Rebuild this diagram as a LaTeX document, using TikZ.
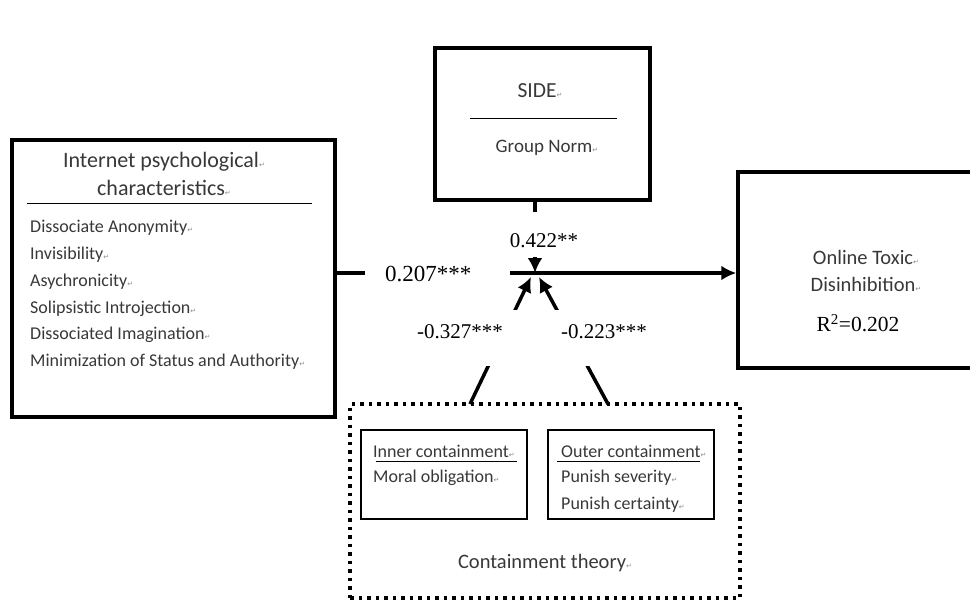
\documentclass[tikz,border=0pt]{standalone}
\usepackage{fontspec}
\setmainfont{Carlito}
\newfontfamily\coeffont{Liberation Serif}
\newfontfamily\markfont{DejaVu Sans}
\usetikzlibrary{arrows.meta}
\newcommand\pmark{{\markfont\fontsize{7}{7}\selectfont\color{black!45}↵}}

\begin{document}
\begin{tikzpicture}[x=1pt, y=-1pt,
    box/.style={draw, line width=3.5pt, inner sep=0},
    subbox/.style={draw, line width=1.8pt, inner sep=0},
    link/.style={line width=3.5pt, -{Latex[length=15pt,width=15pt]}},
    coef/.style={font=\coeffont\fontsize{21}{24}\selectfont, fill=white, inner sep=0, anchor=base},
    txt/.style={text=black!78, inner sep=0},
    item/.style={txt, anchor=west, font=\fontsize{18}{21}\selectfont}]

    \useasboundingbox (0, 0) rectangle (970, 602);

    % Cajas
    \node[box, minimum width=323, minimum height=277] (ipc) at (173.5, 278.5) {};
    \node[box, minimum width=215, minimum height=152] (side) at (542.5, 124) {};
    \node[box, minimum width=250, minimum height=196] (otd) at (863, 270) {};
    \node[draw, line width=3.5pt, dash pattern=on 3.5pt off 5pt, inner sep=0,
          minimum width=390, minimum height=194] (ct) at (545, 501) {};
    \node[subbox, minimum width=166, minimum height=89] (inner) at (444, 474.5) {};
    \node[subbox, minimum width=166, minimum height=89] (outer) at (631, 474.5) {};

    % Textos
    \node[txt, align=center, font=\fontsize{22}{28}\selectfont] (ipct) at (164, 174)
        {Internet psychological\pmark\\characteristics\pmark};
    \draw[line width=0.8pt] (27, 203) -- (312, 203);
    \foreach \t [count=\i] in {Dissociate Anonymity, Invisibility, Asychronicity,
        Solipsistic Introjection, Dissociated Imagination,
        Minimization of Status and Authority}
      \node[item] (it\i) at (30, {228 + 26.8*(\i-1)}) {\t\pmark};

    \node[txt, font=\fontsize{21.5}{24}\selectfont] (sidet) at (540, 91) {SIDE\pmark};
    \draw[line width=0.8pt] (470, 118) -- (617, 118);
    \node[txt, font=\fontsize{19}{22}\selectfont] (gn) at (547, 148) {Group Norm\pmark};

    \node[txt, align=center, font=\fontsize{20.5}{27}\selectfont] (otdt) at (866, 271)
        {Online Toxic\pmark\\Disinhibition\pmark};
    \node[inner sep=0, font=\coeffont\fontsize{21.5}{24}\selectfont] (r2) at (858, 323)
        {R\textsuperscript{2}=0.202};

    \node[item] (ict) at (373, 451) {Inner containment\pmark};
    \draw[line width=0.8pt] (376, 461) -- (517, 461);
    \node[item] (mo) at (373, 478) {Moral obligation\pmark};
    \node[item] (oct) at (561, 451) {Outer containment\pmark};
    \draw[line width=0.8pt] (557, 461) -- (700, 461);
    \node[item] (ps) at (561, 478) {Punish severity\pmark};
    \node[item] (pc) at (561, 505) {Punish certainty\pmark};
    \node[txt, font=\fontsize{20.5}{24}\selectfont] (ctt) at (545, 563)
        {Containment theory\pmark};

    % Flechas
    \coordinate (jn) at (535, 273);
    \coordinate (ctL) at (470, 404);
    \coordinate (ctR) at (608, 404);
    \coordinate (tipL) at (531, 277);
    \coordinate (tipR) at (539, 277);
    \draw[link] (ipc.east |- jn) -- (otd.west |- jn);
    \draw[link] (side.south -| jn) -- (jn);
    \draw[link] (ctL) -- (tipL);
    \draw[link] (ctR) -- (tipR);

    % Coeficientes
    \node[coef, font=\coeffont\fontsize{23}{26}\selectfont, anchor=base west,
          text width=145, align=left, text height=15, text depth=5] (b1)
          at (365, 281) {\hspace*{20pt}0.207***};
    \node[coef, text height=35, text depth=10] (b2) at (544, 247) {0.422**};
    \node[coef, minimum width=120, text height=28, text depth=28] (b3) at (460, 338) {-0.327***};
    \node[coef, minimum width=100, text height=28, text depth=28] (b4) at (604, 338) {-0.223***};

  \end{tikzpicture}
\end{document}
